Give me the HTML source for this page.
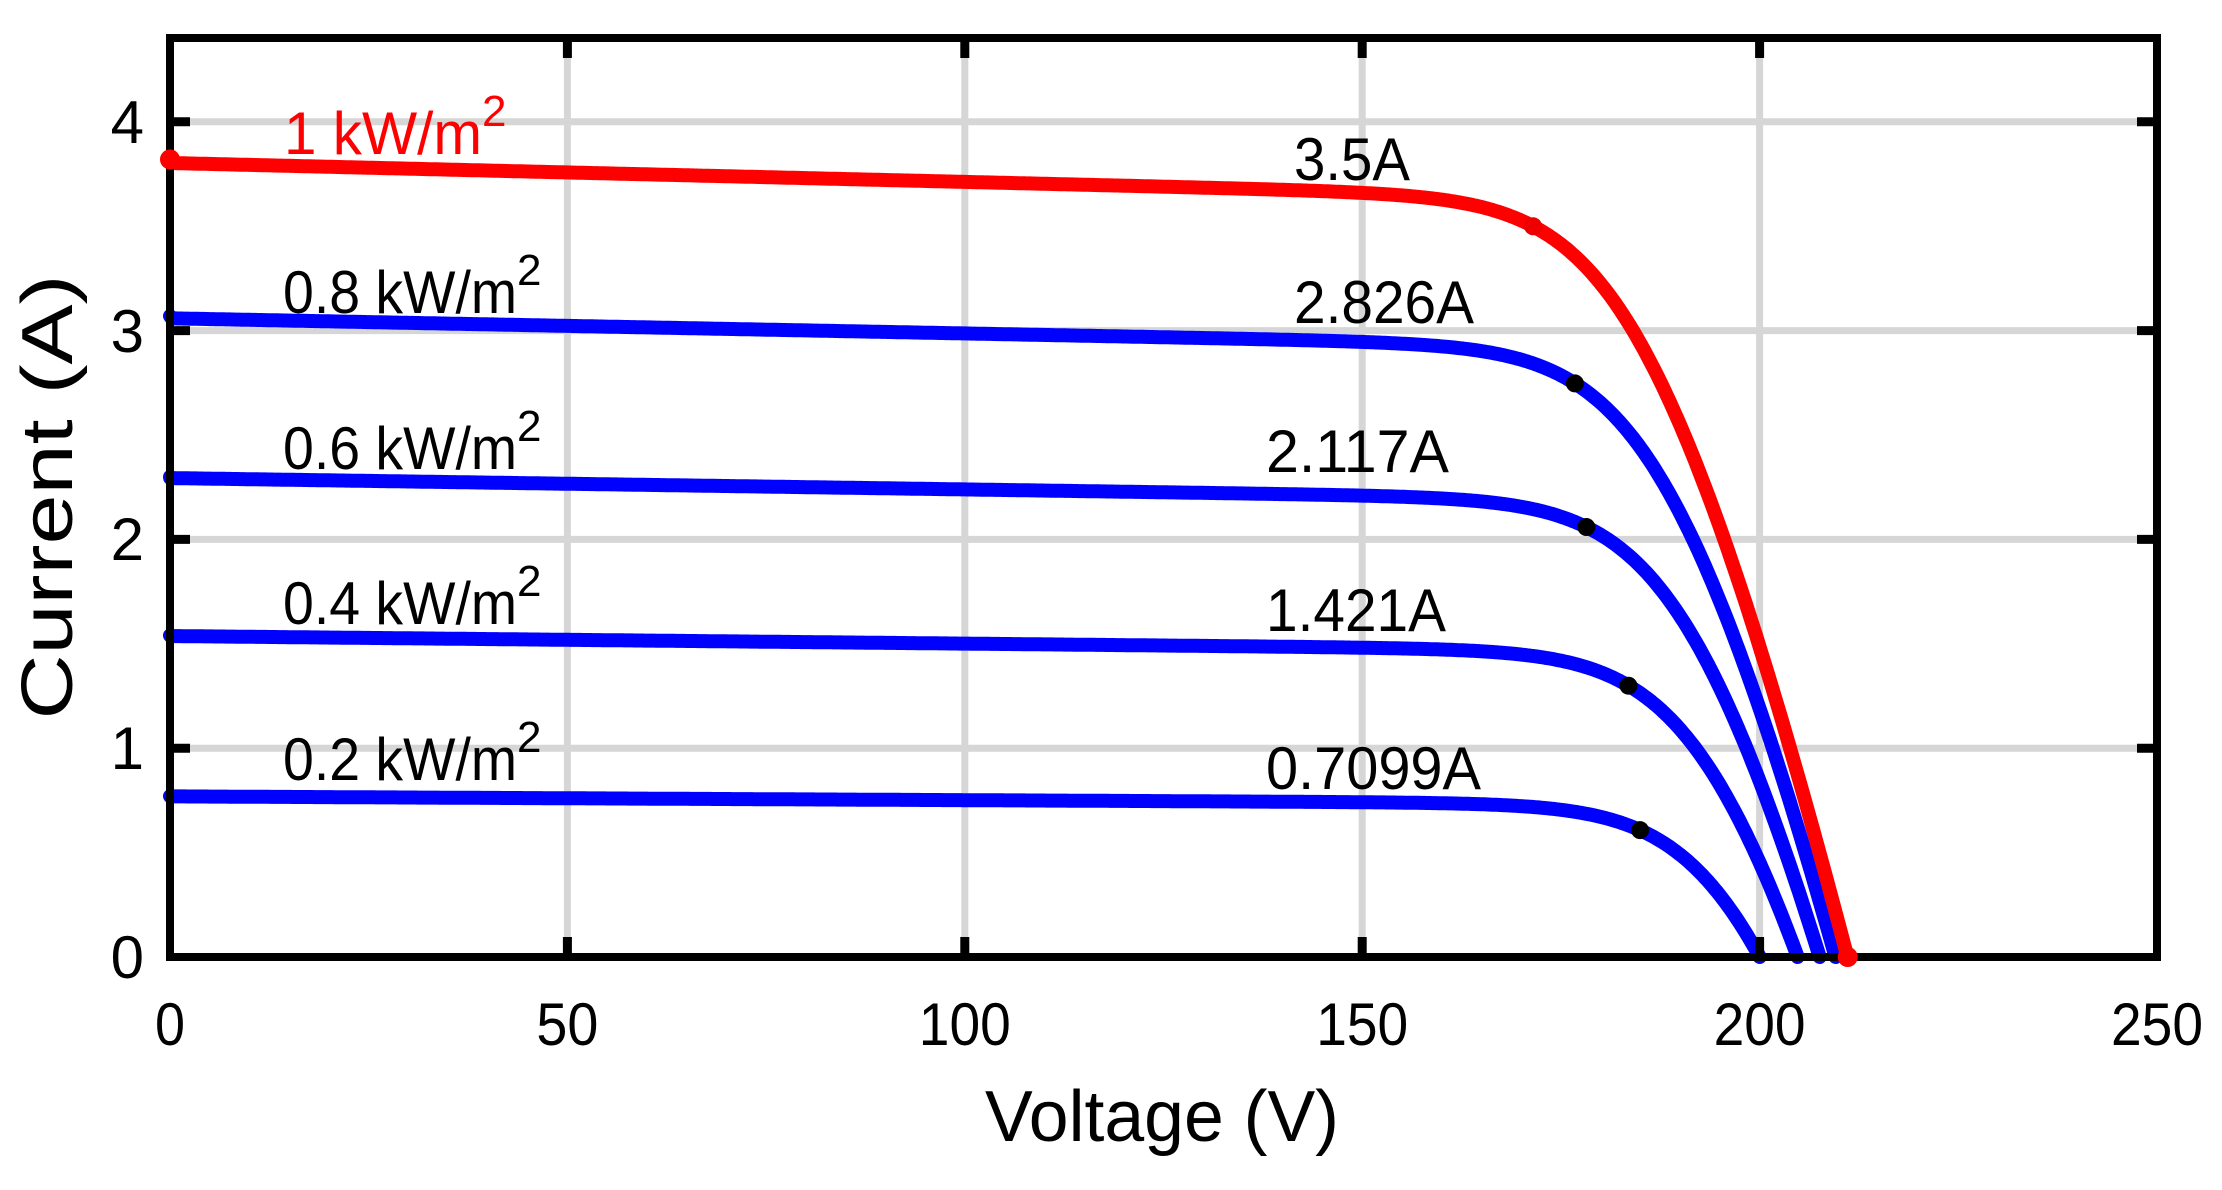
<!DOCTYPE html>
<html><head><meta charset="utf-8"><style>
html,body{margin:0;padding:0;background:#fff;}
svg text{font-family:"Liberation Sans",Arial,sans-serif;}
</style></head><body>
<svg id="s" width="2222" height="1185" viewBox="0 0 2222 1185" xmlns="http://www.w3.org/2000/svg">
<rect width="2222" height="1185" fill="#fff"/>
<g stroke="#d6d6d6" stroke-width="7">
<line x1="567.4" y1="38" x2="567.4" y2="957"/>
<line x1="964.8" y1="38" x2="964.8" y2="957"/>
<line x1="1362.2" y1="38" x2="1362.2" y2="957"/>
<line x1="1759.6" y1="38" x2="1759.6" y2="957"/>
<line x1="170" y1="748.2" x2="2157" y2="748.2"/>
<line x1="170" y1="539.4" x2="2157" y2="539.4"/>
<line x1="170" y1="330.6" x2="2157" y2="330.6"/>
<line x1="170" y1="121.8" x2="2157" y2="121.8"/>
</g>
<g id="curves" fill="none" stroke-width="14" stroke-linejoin="round" stroke-linecap="round"></g>
<g id="dots"></g>
<g stroke="#000" stroke-width="9">
<line x1="567.4" y1="957" x2="567.4" y2="937"/><line x1="964.8" y1="957" x2="964.8" y2="937"/><line x1="1362.2" y1="957" x2="1362.2" y2="937"/><line x1="1759.6" y1="957" x2="1759.6" y2="937"/>
<line x1="567.4" y1="38" x2="567.4" y2="58"/><line x1="964.8" y1="38" x2="964.8" y2="58"/><line x1="1362.2" y1="38" x2="1362.2" y2="58"/><line x1="1759.6" y1="38" x2="1759.6" y2="58"/>
<line x1="170" y1="748.2" x2="190" y2="748.2"/><line x1="170" y1="539.4" x2="190" y2="539.4"/><line x1="170" y1="330.6" x2="190" y2="330.6"/><line x1="170" y1="121.8" x2="190" y2="121.8"/>
<line x1="2157" y1="748.2" x2="2137" y2="748.2"/><line x1="2157" y1="539.4" x2="2137" y2="539.4"/><line x1="2157" y1="330.6" x2="2137" y2="330.6"/><line x1="2157" y1="121.8" x2="2137" y2="121.8"/>
</g>
<rect x="170" y="38" width="1987" height="919" fill="none" stroke="#000" stroke-width="8"/>
<g id="redpts"></g>
<g font-size="60" fill="#000" lengthAdjust="spacingAndGlyphs">
<g text-anchor="middle">
<text x="170" y="1045" textLength="30" lengthAdjust="spacingAndGlyphs">0</text><text x="567.4" y="1045" textLength="62" lengthAdjust="spacingAndGlyphs">50</text><text x="964.8" y="1045" textLength="92" lengthAdjust="spacingAndGlyphs">100</text><text x="1362.2" y="1045" textLength="92" lengthAdjust="spacingAndGlyphs">150</text><text x="1759.6" y="1045" textLength="92" lengthAdjust="spacingAndGlyphs">200</text><text x="2157" y="1045" textLength="92" lengthAdjust="spacingAndGlyphs">250</text>
</g>
<g text-anchor="end">
<text x="144" y="978">0</text><text x="144" y="769">1</text><text x="144" y="560">2</text><text x="144" y="352">3</text><text x="144" y="143">4</text>
</g>
</g>
<text x="1162" y="1141" font-size="72" text-anchor="middle" textLength="354" lengthAdjust="spacingAndGlyphs">Voltage (V)</text>
<text transform="translate(72,497) rotate(-90)" font-size="72" text-anchor="middle" textLength="445" lengthAdjust="spacingAndGlyphs">Current (A)</text>
<g font-size="60">
<text x="284" y="154" fill="#f00"><tspan textLength="198" lengthAdjust="spacingAndGlyphs">1 kW/m</tspan><tspan dy="-28" font-size="44">2</tspan></text>
<text x="283" y="313"><tspan textLength="234" lengthAdjust="spacingAndGlyphs">0.8 kW/m</tspan><tspan dy="-28" font-size="44">2</tspan></text>
<text x="283" y="469"><tspan textLength="234" lengthAdjust="spacingAndGlyphs">0.6 kW/m</tspan><tspan dy="-28" font-size="44">2</tspan></text>
<text x="283" y="624"><tspan textLength="234" lengthAdjust="spacingAndGlyphs">0.4 kW/m</tspan><tspan dy="-28" font-size="44">2</tspan></text>
<text x="283" y="780"><tspan textLength="234" lengthAdjust="spacingAndGlyphs">0.2 kW/m</tspan><tspan dy="-28" font-size="44">2</tspan></text>
<text x="1294" y="180" textLength="116" lengthAdjust="spacingAndGlyphs">3.5A</text>
<text x="1294" y="323" textLength="180" lengthAdjust="spacingAndGlyphs">2.826A</text>
<text x="1266" y="472" textLength="183" lengthAdjust="spacingAndGlyphs">2.117A</text>
<text x="1266" y="631" textLength="180" lengthAdjust="spacingAndGlyphs">1.421A</text>
<text x="1266" y="789" textLength="215" lengthAdjust="spacingAndGlyphs">0.7099A</text>
</g>
</svg>
<script>
(function(){
var NS="http://www.w3.org/2000/svg";
function X(v){return 170+v*7.948;}
function Y(i){return 957-i*208.8;}
var a=6.9,Rs=5,I0=3.6*Math.exp(-211/a);
var cs=[{G:1,Iph:3.82,col:"#f00",mi:3.5},{G:0.8,Iph:3.07,col:"#00f",mi:2.75},{G:0.6,Iph:2.30,col:"#00f",mi:2.06},{G:0.4,Iph:1.54,col:"#00f",mi:1.30},{G:0.2,Iph:0.77,col:"#00f",mi:0.61}];
var g=document.getElementById("curves"),dg=document.getElementById("dots");
var order=[4,3,2,1,0];
order.forEach(function(k){
 var c=cs[k],Rsh=1100/c.G,pts=[],dot=null;
 for(var vd=0;vd<260;vd+=0.25){
  var I=c.Iph-I0*(Math.exp(vd/a)-1)-vd/Rsh;
  var V=vd-I*Rs;
  if(I<0){break;}
  pts.push([V,I]);
  if(dot===null&&I<=c.mi)dot=[V,I];
 }
 var last=pts[pts.length-1];
 var d="M"+X(0).toFixed(1)+","+Y(c.Iph).toFixed(1);
 pts.forEach(function(p){if(p[0]>=0)d+=" L"+X(p[0]).toFixed(1)+","+Y(p[1]).toFixed(1);});
 d+=" L"+X(last[0]+last[1]*8).toFixed(1)+","+Y(0);
 var p=document.createElementNS(NS,"path");p.setAttribute("d",d);p.setAttribute("stroke",c.col);g.appendChild(p);
 if(dot){var e=document.createElementNS(NS,"circle");e.setAttribute("cx",X(dot[0]));e.setAttribute("cy",Y(dot[1]));e.setAttribute("r",9);e.setAttribute("fill",k==0?"#e00":"#000");dg.appendChild(e);}
 if(k==0){var rp=document.getElementById("redpts");
  [[X(0),Y(c.Iph)],[X(last[0]+last[1]*8),Y(0)]].forEach(function(q){var e=document.createElementNS(NS,"circle");e.setAttribute("cx",q[0]);e.setAttribute("cy",q[1]);e.setAttribute("r",10);e.setAttribute("fill","#f00");rp.appendChild(e);});
 }
});
})();
</script>
</body></html>
